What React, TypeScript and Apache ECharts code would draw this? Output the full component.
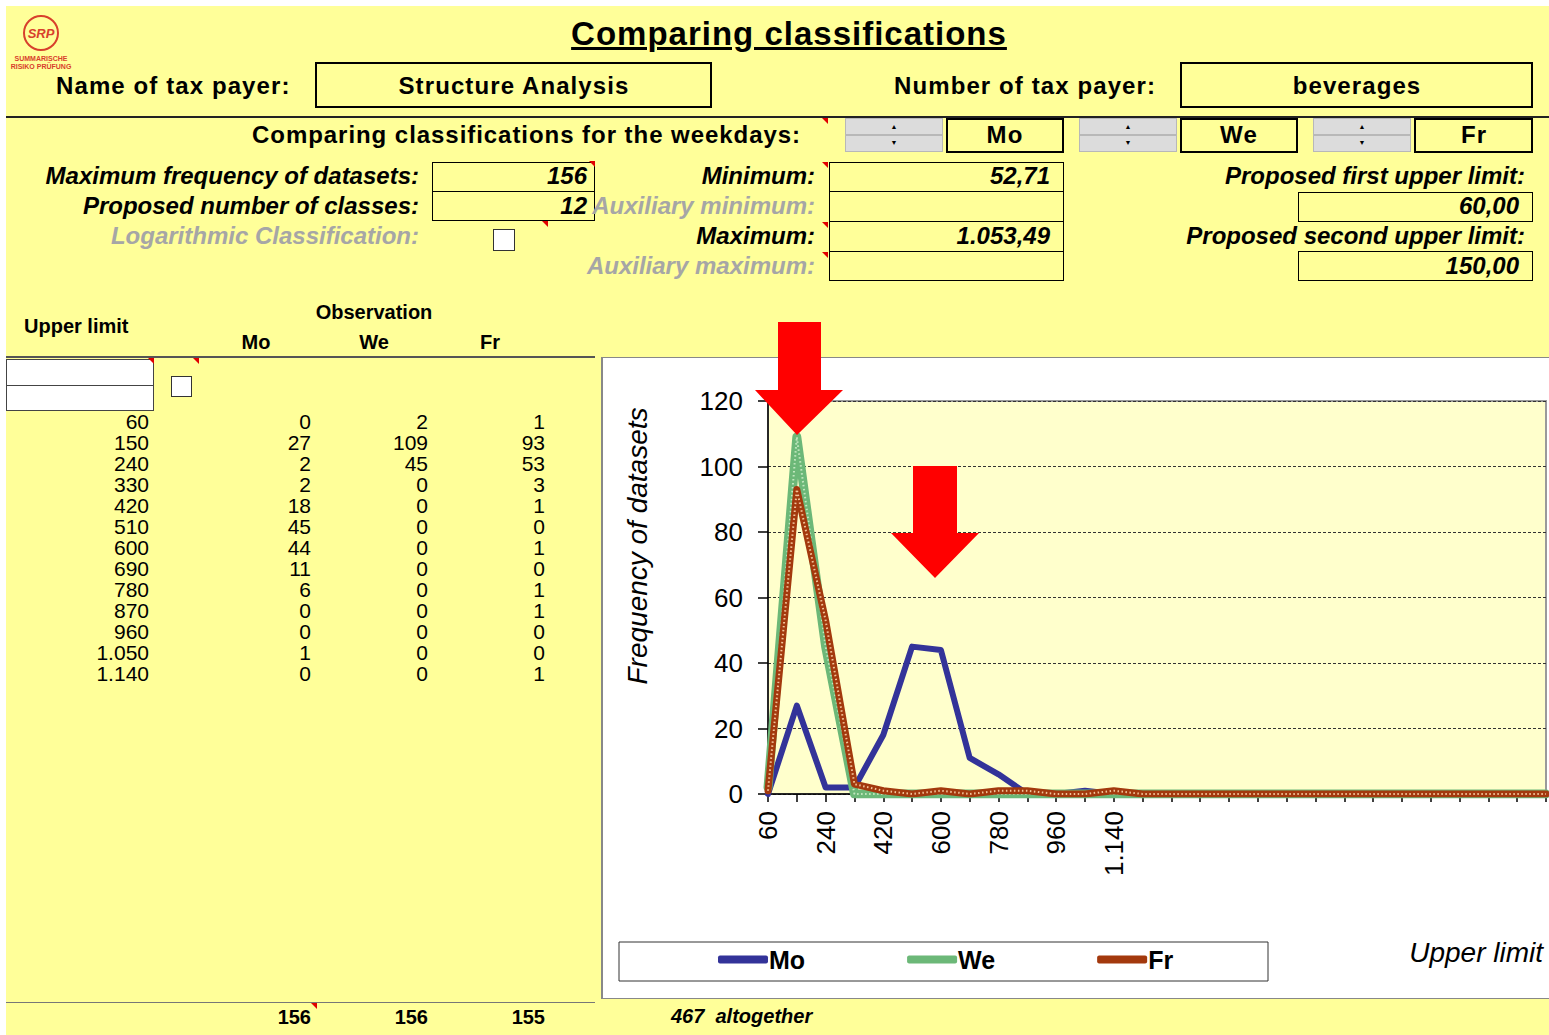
import React, { useEffect, useRef } from "react";
import * as echarts from "echarts";

const FONT = '"Liberation Sans", Arial, sans-serif';

// ---- data ----
const upperLimits = ["60", "150", "240", "330", "420", "510", "600", "690", "780", "870", "960", "1.050", "1.140"];
const moValues = [0, 27, 2, 2, 18, 45, 44, 11, 6, 0, 0, 1, 0];
const weValues = [2, 109, 45, 0, 0, 0, 0, 0, 0, 0, 0, 0, 0];
const frValues = [1, 93, 53, 3, 1, 0, 1, 0, 1, 1, 0, 0, 1];
// empty class slots that the chart still plots at zero
const chartTailZeros = [0, 0, 0, 0, 0, 0, 0, 0, 0, 0, 0, 0, 0, 0, 0];
const seriesNames = ["Mo", "We", "Fr"];
const seriesColors = ["#333399", "#6cb878", "#a3390d"];
const seriesWidths = [6, 9, 7];
const textureColors = [null, "#c4e8c0", "#f2c49a"];
const yMin = 0;
const yMax = 120;
const yInterval = 20;

const sum = (a: number[]) => a.reduce((s, v) => s + v, 0);

type TP = { t: string | number; x: number; y: number; a?: "l" | "r" | "c"; s?: number; b?: boolean; i?: boolean; c?: string; u?: boolean; ls?: number };
function Txt({ t, x, y, a = "l", s = 24, b = true, i = false, c = "#000", u = false, ls = 0 }: TP) {
  const w = 800;
  const left = a === "l" ? x : a === "r" ? x - w : x - w / 2;
  return (
    <div
      style={{
        position: "absolute",
        left,
        top: y - s * 0.6,
        width: w,
        height: s * 1.2,
        lineHeight: `${s * 1.2}px`,
        fontSize: s,
        fontWeight: b ? 700 : 400,
        fontStyle: i ? "italic" : "normal",
        color: c,
        letterSpacing: ls,
        textAlign: a === "l" ? "left" : a === "r" ? "right" : "center",
        textDecoration: u ? "underline" : "none",
        textDecorationThickness: u ? 3 : undefined,
        textUnderlineOffset: u ? 2 : undefined,
        whiteSpace: "pre",
        fontFamily: FONT,
        pointerEvents: "none",
      }}
    >
      {t}
    </div>
  );
}

function Box({ x, y, w, h, bw = 1, bg = "transparent", bc = "#000" }: { x: number; y: number; w: number; h: number; bw?: number; bg?: string; bc?: string }) {
  return (
    <div
      style={{
        position: "absolute",
        left: x,
        top: y,
        width: w,
        height: h,
        border: `${bw}px solid ${bc}`,
        boxSizing: "border-box",
        background: bg,
      }}
    />
  );
}

function Rect({ x, y, w, h, bg }: { x: number; y: number; w: number; h: number; bg: string }) {
  return <div style={{ position: "absolute", left: x, top: y, width: w, height: h, background: bg }} />;
}

function Tri({ x, y }: { x: number; y: number }) {
  return (
    <div
      style={{
        position: "absolute",
        left: x,
        top: y,
        width: 0,
        height: 0,
        borderTop: "6px solid #e00000",
        borderLeft: "6px solid transparent",
      }}
    />
  );
}

function Spinner({ x }: { x: number }) {
  return (
    <>
      <div style={{ position: "absolute", left: x, top: 118, width: 98, height: 17, background: "#dcdcdc", border: "1px solid #b8b8b8", boxSizing: "border-box" }} />
      <div style={{ position: "absolute", left: x, top: 135, width: 98, height: 17, background: "#dcdcdc", border: "1px solid #b8b8b8", boxSizing: "border-box" }} />
      <Txt t="▲" x={x + 49} y={127} a="c" s={7} b={false} />
      <Txt t="▼" x={x + 49} y={143} a="c" s={7} b={false} />
    </>
  );
}

function Chart() {
  const ref = useRef<HTMLDivElement>(null);
  useEffect(() => {
    if (!ref.current) return;
    const chart = echarts.init(ref.current, undefined, { renderer: "svg" });
    const cats = [...upperLimits, ...chartTailZeros.map((_, i) => `_slot${i}`)];
    const seriesData = [moValues, weValues, frValues];
    const series: any[] = [];
    seriesNames.forEach((name, k) => {
      const data = [...seriesData[k], ...chartTailZeros];
      series.push({
        name,
        type: "line",
        data,
        symbol: "none",
        lineStyle: { width: seriesWidths[k], color: seriesColors[k], cap: "round", join: "round" },
        itemStyle: { color: seriesColors[k] },
        z: 3 + k * 2,
      });
      if (textureColors[k]) {
        series.push({
          name: `${name} texture`,
          type: "line",
          data,
          symbol: "none",
          silent: true,
          lineStyle: { width: 2, color: textureColors[k], type: [1.5, 2.5] },
          z: 4 + k * 2,
        });
      }
    });
    chart.setOption({
      animation: false,
      textStyle: { fontFamily: FONT },
      grid: {
        left: 167,
        top: 101,
        right: 3,
        bottom: 205,
        show: true,
        backgroundColor: "#FFFFCC",
        borderColor: "#9a9a9a",
        borderWidth: 2,
      },
      xAxis: {
        type: "category",
        data: cats,
        boundaryGap: false,
        axisLine: { show: true, lineStyle: { color: "#000", width: 1.5 } },
        axisTick: { show: true, interval: 0, length: 8, lineStyle: { color: "#000", width: 1.5 } },
        axisLabel: {
          interval: 1,
          rotate: 90,
          fontSize: 26,
          color: "#000",
          margin: 17,
          fontFamily: FONT,
          formatter: (v: string, i: number) => (i < upperLimits.length ? v : ""),
        },
        splitLine: { show: false },
      },
      yAxis: {
        type: "value",
        min: yMin,
        max: yMax,
        interval: yInterval,
        axisLine: { show: true, lineStyle: { color: "#000", width: 1.5 } },
        axisTick: { show: true, length: 10, lineStyle: { color: "#000", width: 1.5 } },
        axisLabel: { fontSize: 26, color: "#000", margin: 25, fontFamily: FONT },
        splitLine: { show: true, lineStyle: { color: "#333", type: [3, 2], width: 1 } },
      },
      legend: {
        data: seriesNames.map((n) => ({ name: n, icon: "roundRect" })),
        left: 117,
        top: 647,
        padding: 0,
        itemWidth: 50,
        itemHeight: 8,
        itemGap: 102,
        textStyle: { fontSize: 25, fontWeight: "bold", color: "#000", fontFamily: FONT, padding: [0, 0, 0, -4] },
      },
      series,
      graphic: [
        {
          type: "rect",
          shape: { x: 18, y: 642, width: 649, height: 39 },
          style: { fill: "#fff", stroke: "#333", lineWidth: 1 },
          z: 0,
        },
        {
          type: "text",
          x: 36,
          y: 246,
          rotation: Math.PI / 2,
          style: { text: "Frequency of datasets", fontSize: 28, fontStyle: "italic", fontFamily: FONT, fill: "#000", textAlign: "center", textVerticalAlign: "middle" },
        },
        {
          type: "text",
          x: 942,
          y: 652,
          style: { text: "Upper limit", fontSize: 28, fontStyle: "italic", fontFamily: FONT, fill: "#000", textAlign: "right", textVerticalAlign: "middle" },
        },
        {
          type: "polygon",
          z: 100,
          shape: { points: [[177, 22], [220, 22], [220, 90], [242, 90], [196, 135], [154, 90], [177, 90]] },
          style: { fill: "#ff0000" },
        },
        {
          type: "polygon",
          z: 100,
          shape: { points: [[312, 166], [356, 166], [356, 233], [378, 233], [334, 278], [290, 233], [312, 233]] },
          style: { fill: "#ff0000" },
        },
      ],
    });
    return () => chart.dispose();
  }, []);
  return <div ref={ref} style={{ position: "absolute", left: 601, top: 300, width: 948, height: 699 }} />;
}

export default function App() {
  const totals = [sum(moValues), sum(weValues), sum(frValues)];
  const all = sum(totals);
  const grey = "#a6a6a6";
  const HL = 1.1;
  return (
    <div style={{ position: "fixed", left: 0, top: 0, width: 1549, height: 1035, background: "#fff", overflow: "hidden", fontFamily: FONT }}>
      <Rect x={6} y={6} w={1543} h={1029} bg="#FFFF99" />

      {/* logo */}
      <div style={{ position: "absolute", left: 23, top: 15, width: 36, height: 36, borderRadius: "50%", border: "2px solid #d8402c", boxSizing: "border-box" }} />
      <Txt t="SRP" x={41} y={34} a="c" s={13} c="#d8402c" i />
      <Txt t="SUMMARISCHE" x={41} y={59} a="c" s={7} c="#d8402c" />
      <Txt t="RISIKO PRÜFUNG" x={41} y={67} a="c" s={7} c="#d8402c" />

      <Txt t="Comparing classifications" x={789} y={34} a="c" s={33} u ls={1} />
      <Txt t="Name of tax payer:" x={56} y={86} ls={HL} />
      <Box x={315} y={62} w={397} h={46} bw={2} />
      <Txt t="Structure Analysis" x={514} y={86} a="c" ls={HL} />
      <Txt t="Number of tax payer:" x={894} y={86} ls={HL} />
      <Box x={1180} y={62} w={353} h={46} bw={2} />
      <Txt t="beverages" x={1357} y={86} a="c" ls={HL} />

      <Rect x={6} y={116} w={1543} h={2} bg="#222" />

      <Txt t="Comparing classifications for the weekdays:" x={801} y={135} a="r" ls={0.95} />
      <Tri x={822} y={118} />
      <Spinner x={845} />
      <Spinner x={1079} />
      <Spinner x={1313} />
      <Box x={946} y={118} w={118} h={35} bw={2} />
      <Box x={1180} y={118} w={118} h={35} bw={2} />
      <Box x={1414} y={118} w={119} h={35} bw={2} />
      <Txt t="Mo" x={1005} y={135} a="c" ls={HL} />
      <Txt t="We" x={1239} y={135} a="c" ls={HL} />
      <Txt t="Fr" x={1474} y={135} a="c" ls={HL} />

      <Txt t="Maximum frequency of datasets:" x={419} y={176} a="r" i />
      <Txt t="Proposed number of classes:" x={419} y={206} a="r" i />
      <Txt t="Logarithmic Classification:" x={419} y={236} a="r" i c={grey} />
      <Box x={432} y={162} w={163} h={30} />
      <Box x={432} y={191} w={163} h={30} />
      <Txt t={totals[0]} x={587} y={176} a="r" i />
      <Txt t={upperLimits.length - 1} x={587} y={206} a="r" i />
      <Tri x={589} y={161} />
      <Tri x={542} y={221} />
      <Box x={493} y={229} w={22} h={22} bg="#fff" bc="#333" />

      <Box x={829} y={162} w={235} h={30} />
      <Box x={829} y={191} w={235} h={31} />
      <Box x={829} y={221} w={235} h={31} />
      <Box x={829} y={251} w={235} h={30} />
      <Txt t="Minimum:" x={815} y={176} a="r" i />
      <Txt t="Auxiliary minimum:" x={815} y={206} a="r" i c={grey} />
      <Txt t="Maximum:" x={815} y={236} a="r" i />
      <Txt t="Auxiliary maximum:" x={815} y={266} a="r" i c={grey} />
      <Txt t="52,71" x={1050} y={176} a="r" i />
      <Txt t="1.053,49" x={1050} y={236} a="r" i />
      <Tri x={822} y={162} />
      <Tri x={822} y={222} />
      <Tri x={822} y={252} />

      <Txt t="Proposed first upper limit:" x={1525} y={176} a="r" i />
      <Box x={1298} y={192} w={235} h={30} />
      <Txt t="60,00" x={1519} y={206} a="r" i />
      <Txt t="Proposed second upper limit:" x={1525} y={236} a="r" i />
      <Box x={1298} y={251} w={235} h={30} />
      <Txt t="150,00" x={1519} y={266} a="r" i />

      <Txt t="Upper limit" x={24} y={326} s={20} />
      <Txt t="Observation" x={374} y={312} a="c" s={20} />
      <Txt t="Mo" x={256} y={342} a="c" s={20} />
      <Txt t="We" x={374} y={342} a="c" s={20} />
      <Txt t="Fr" x={490} y={342} a="c" s={20} />
      <Rect x={6} y={356} w={589} h={2} bg="#555" />
      <Box x={6} y={359} w={148} h={27} bg="#fff" bc="#444" />
      <Box x={6} y={385} w={148} h={26} bg="#fff" bc="#444" />
      <Box x={171} y={376} w={21} h={21} bg="#fff" bc="#333" />
      <Tri x={148} y={358} />
      <Tri x={193} y={358} />

      {upperLimits.map((u, i) => (
        <React.Fragment key={u}>
          <Txt t={u} x={149} y={422 + 21 * i} a="r" s={21} b={false} />
          <Txt t={moValues[i]} x={311} y={422 + 21 * i} a="r" s={21} b={false} />
          <Txt t={weValues[i]} x={428} y={422 + 21 * i} a="r" s={21} b={false} />
          <Txt t={frValues[i]} x={545} y={422 + 21 * i} a="r" s={21} b={false} />
        </React.Fragment>
      ))}

      <Rect x={6} y={1002} w={589} h={1} bg="#777" />
      <Tri x={311} y={1003} />
      <Txt t={totals[0]} x={311} y={1017} a="r" s={20} />
      <Txt t={totals[1]} x={428} y={1017} a="r" s={20} />
      <Txt t={totals[2]} x={545} y={1017} a="r" s={20} />
      <Txt t={`${all}  altogether`} x={671} y={1016} s={20} i />

      <div style={{ position: "absolute", left: 601, top: 357, width: 948, height: 642, background: "#fff", borderLeft: "2px solid #888", borderTop: "1px solid #888", borderBottom: "1px solid #888", boxSizing: "border-box" }} />
      <Chart />
    </div>
  );
}
